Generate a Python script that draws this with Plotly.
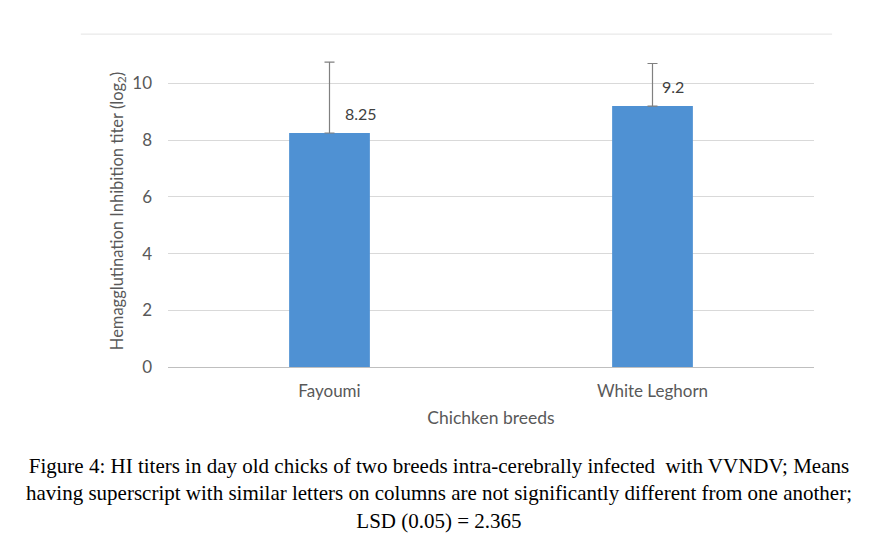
"""
HI titers in day old chicks - bar chart with error bars
"""

import plotly.graph_objects as go

BREEDS = ["Fayoumi", "White Leghorn"]
HI_TITER = [8.25, 9.2]
HI_ERR = [2.5, 1.5]
LABELS = ["8.25", "9.2"]
LABEL_SHIFT = [31, 20]

Y_TICKS = [0, 2, 4, 6, 8, 10]

CAPTION = (
    "Figure 4: HI titers in day old chicks of two breeds intra-cerebrally infected  with VVNDV; Means<br>"
    "having superscript with similar letters on columns are not significantly different from one another;<br>"
    "LSD (0.05) = 2.365"
)

GRID_CLR = "#d9d9d9"
TEXT_CLR = "#595959"
BAR_CLR = "#4f91d3"


def create_bar():
    fig = go.Figure()
    fig.add_trace(
        go.Bar(
            x=BREEDS,
            y=HI_TITER,
            marker=dict(color=BAR_CLR, line=dict(width=0)),
            error_y=dict(
                type="data",
                symmetric=False,
                array=HI_ERR,
                arrayminus=[0, 0],
                color="#808080",
                thickness=1.2,
                width=5,
            ),
            width=0.25,
            hoverinfo="skip",
        )
    )

    # data labels, right of the error bar
    for breed, val, txt, dx in zip(BREEDS, HI_TITER, LABELS, LABEL_SHIFT):
        fig.add_annotation(
            x=breed,
            y=val,
            text=txt,
            showarrow=False,
            xshift=dx,
            yshift=20,
            font=dict(family="Lato", size=16, color="#404040"),
        )

    # figure caption
    fig.add_annotation(
        xref="paper",
        yref="paper",
        x=0.42,
        y=-0.272,
        xanchor="center",
        yanchor="top",
        text=CAPTION,
        showarrow=False,
        align="center",
        font=dict(family="Liberation Serif", size=21, color="#000000"),
    )

    # top border of the chart area
    fig.add_shape(
        type="line",
        xref="paper",
        yref="paper",
        x0=-0.135,
        x1=1.028,
        y0=1.067,
        y1=1.067,
        line=dict(color="#e3e3e3", width=1),
    )

    # page body adds 8px, margins are reduced for it
    fig.update_layout(
        width=876,
        height=547,
        margin=dict(t=47, b=188, l=160, r=70),
        paper_bgcolor="white",
        plot_bgcolor="white",
        showlegend=False,
        font=dict(family="Lato", color=TEXT_CLR),
        xaxis=dict(
            title=dict(text="Chichken breeds", font=dict(size=17.5, color=TEXT_CLR), standoff=11),
            tickfont=dict(size=17, color=TEXT_CLR),
            showline=True,
            linecolor="#bfbfbf",
            linewidth=1,
            ticks="",
            showgrid=False,
            ticklabelstandoff=9,
        ),
        yaxis=dict(
            title=dict(
                text="Hemagglutination Inhibition titer (log<sub>2</sub>)",
                font=dict(size=16.5, color=TEXT_CLR),
                standoff=4,
            ),
            range=[0, 11],
            tickvals=Y_TICKS,
            tickfont=dict(size=17, color=TEXT_CLR),
            gridcolor=GRID_CLR,
            gridwidth=1,
            zeroline=False,
            ticks="",
            ticklabelstandoff=15,
        ),
    )
    return fig


def main():
    fig = create_bar()
    fig.write_html("out.html")


if __name__ == "__main__":
    main()
